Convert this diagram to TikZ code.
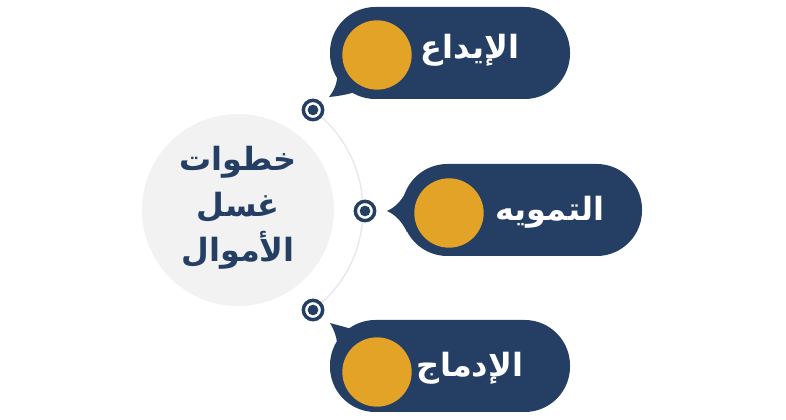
\documentclass[tikz,border=0pt]{standalone}
\usepackage{fontspec}
\TeXXeTstate=1
\newfontfamily\arabicfont[Script=Arabic]{DejaVu Sans}
\definecolor{navy}{HTML}{243E64}
\definecolor{gold}{HTML}{E2A326}
\definecolor{lightgray}{HTML}{F2F2F2}
\definecolor{arcgray}{HTML}{E6E8EC}
\begin{document}
\begin{tikzpicture}[x=0.75pt,y=-0.75pt,
  pill/.style={fill=navy, rounded corners=34pt, minimum width=180pt, minimum height=69pt, inner sep=0pt},
  disc/.style={circle, fill=gold, minimum size=52pt, inner sep=0pt},
  label/.style={text=white, font=\arabicfont\bfseries\fontsize{24}{28}\selectfont, inner sep=0pt},
  target/.style={circle, draw=navy, line width=2.6pt, fill=white, minimum size=14.5pt, inner sep=0pt},
  dot/.style={circle, fill=navy, minimum size=8pt, inner sep=0pt},
  tail/.style={fill=navy}]
\useasboundingbox (0,0) rectangle (786,420);
\fill[white] (0,0) rectangle (786,420);
% central circle
\node[circle, fill=lightgray, minimum size=144pt, inner sep=0pt] (hub) at (238,210) {};
\node[text=navy, font=\arabicfont\bfseries\fontsize{24}{34}\selectfont, align=center] (title) at (238,208)
  {\beginR خطوات\endR\\\beginR غسل\endR\\\beginR الأموال\endR};
% arc
\draw[arcgray, line width=1pt] (238,210) ++(53.13:125 and -125) arc[start angle=53.13, end angle=-53.13, radius=93.75pt];
% pills
\node[pill] (p1) at (450,53) {};
\node[pill] (p2) at (522,210) {};
\node[pill] (p3) at (450,366) {};
% tails
\coordinate (t1) at (329,97);
\coordinate (t2) at (387,211);
\coordinate (t3) at (330,323);
\fill[tail] (t1) .. controls (336,88) and (338,80) .. (337,70) -- (362,90) .. controls (350,94) and (340,96) .. (t1) -- cycle;
\fill[tail] (t2) .. controls (396,207) and (402,200) .. (407,190) -- (407,232) .. controls (402,222) and (396,215) .. (t2) -- cycle;
\fill[tail] (t3) .. controls (340,326) and (352,328) .. (362,334) -- (337,352) .. controls (338,342) and (336,333) .. (t3) -- cycle;
% discs
\node[disc] (d1) at (377,55) {};
\node[disc] (d2) at (449,213) {};
\node[disc] (d3) at (377,372) {};
% labels
\node[label] (l1) at (470,50) {\beginR الإيداع\endR};
\node[label] (l2) at (550,212) {\beginR التمويه\endR};
\node[label] (l3) at (470,368) {\beginR الإدماج\endR};
% targets
\node[target] (g1) at (313,110) {};
\node[dot] at (g1) {};
\node[target] (g2) at (365,211) {};
\node[dot] at (g2) {};
\node[target] (g3) at (313,310) {};
\node[dot] at (g3) {};
\end{tikzpicture}
\end{document}
